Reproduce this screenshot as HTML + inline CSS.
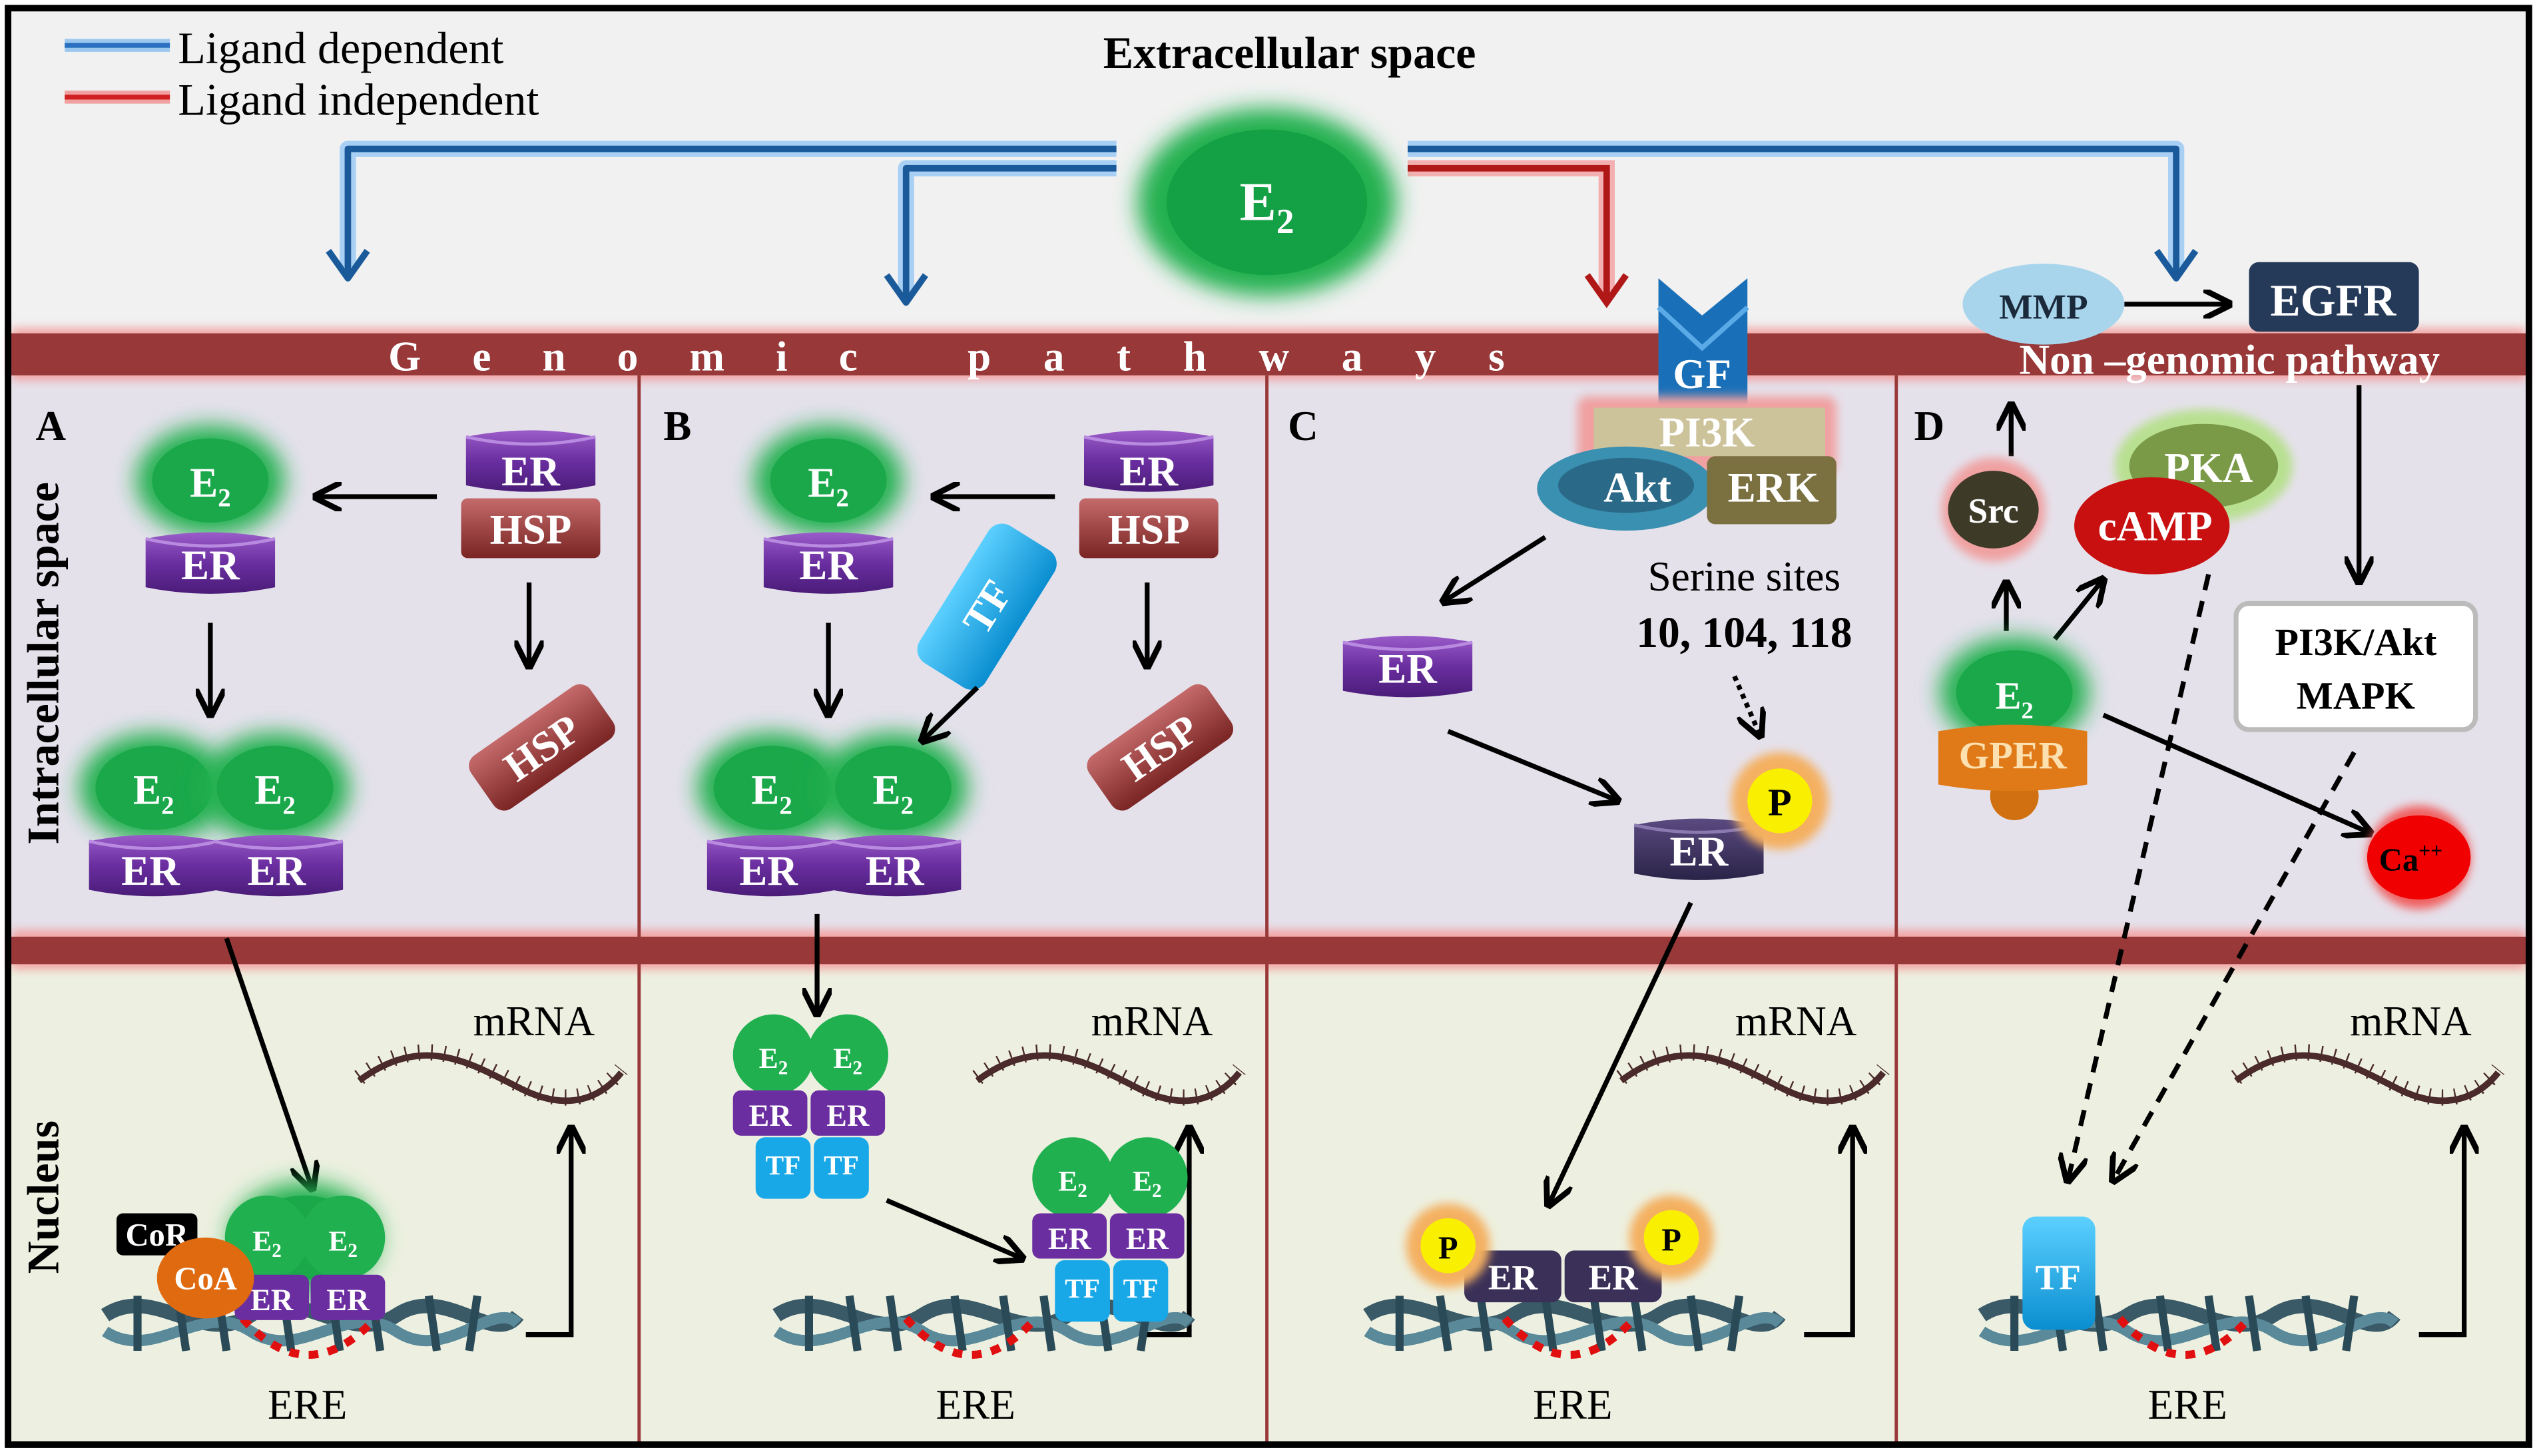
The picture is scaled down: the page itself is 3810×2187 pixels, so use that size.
<!DOCTYPE html>
<html><head><meta charset="utf-8"><style>html,body{margin:0;padding:0;background:#fff}svg{display:block}text{font-family:"Liberation Serif",serif}</style></head><body>
<svg width="3810" height="2187" viewBox="0 0 1568 900" xmlns="http://www.w3.org/2000/svg">
<defs>
<filter id="bl" x="-50%" y="-50%" width="200%" height="200%"><feGaussianBlur stdDeviation="7"/></filter>
<filter id="bl2" x="-50%" y="-50%" width="200%" height="200%"><feGaussianBlur stdDeviation="3"/></filter>
<linearGradient id="pur" x1="0" y1="0" x2="0" y2="1"><stop offset="0" stop-color="#9a5cc8"/><stop offset="0.5" stop-color="#6a2ea0"/><stop offset="1" stop-color="#4a1c78"/></linearGradient>
<linearGradient id="dpur" x1="0" y1="0" x2="0" y2="1"><stop offset="0" stop-color="#5a4a80"/><stop offset="1" stop-color="#2a2448"/></linearGradient>
<linearGradient id="hsp" x1="0" y1="0" x2="0" y2="1"><stop offset="0" stop-color="#c46a6a"/><stop offset="1" stop-color="#7a2424"/></linearGradient>
<linearGradient id="tf" x1="0" y1="0" x2="0" y2="1"><stop offset="0" stop-color="#5cd0ff"/><stop offset="1" stop-color="#0a8ed0"/></linearGradient>
<marker id="ah" viewBox="0 0 10 10" refX="9" refY="5" markerWidth="6" markerHeight="6" orient="auto"><path d="M0,0 L10,5 L0,10" fill="none" stroke="#000" stroke-width="2"/></marker>
<g id="er"><path d="M0,5 Q40,-3 80,5 L80,35 Q40,43 0,35 Z" fill="url(#pur)"/><path d="M0,5 Q40,14 80,5" fill="none" stroke="#b88ae0" stroke-width="2"/></g>
<g id="erd"><path d="M0,5 Q40,-3 80,5 L80,35 Q40,43 0,35 Z" fill="url(#dpur)"/><path d="M0,5 Q40,14 80,5" fill="none" stroke="#8a7ab0" stroke-width="2"/></g>
<g id="e2"><ellipse cx="0" cy="0" rx="46" ry="34" fill="#20b050" filter="url(#bl)"/><ellipse cx="0" cy="0" rx="36" ry="26" fill="#1aa84a"/></g>
<g id="dna"><path d="M0,20 C30,0 60,40 90,20 C120,0 150,40 180,20 C210,0 240,40 255,20" fill="none" stroke="#3a5a68" stroke-width="9"/><path d="M0,30 C30,50 60,10 90,30 C120,50 150,10 180,30 C210,50 240,10 255,25" fill="none" stroke="#5a8a9a" stroke-width="7"/><g stroke="#2a4a58" stroke-width="5"><line x1="20" y1="8" x2="20" y2="42"/><line x1="45" y1="8" x2="50" y2="42"/><line x1="70" y1="8" x2="75" y2="42"/><line x1="110" y1="8" x2="115" y2="42"/><line x1="140" y1="8" x2="145" y2="42"/><line x1="165" y1="8" x2="170" y2="42"/><line x1="200" y1="8" x2="205" y2="42"/><line x1="230" y1="8" x2="225" y2="42"/></g></g>
<g id="mrna"><path d="M0,20 C40,-10 70,10 100,25 C130,40 150,30 162,15" fill="none" stroke="#4a2a2a" stroke-width="4"/><path d="M0,20 C40,-10 70,10 100,25 C130,40 150,30 162,15" fill="none" stroke="#4a2a2a" stroke-width="10" stroke-dasharray="1,7" transform="translate(0,-2)"/></g>
</defs>
<rect x="0" y="0" width="1568" height="900" fill="#fff"/>
<rect x="5" y="5" width="1558" height="888" fill="#f1f1f1" stroke="#000" stroke-width="4"/>
<rect x="7" y="232" width="1554" height="350" fill="#e5e1eb"/>
<rect x="7" y="595" width="1554" height="296" fill="#edf0e0"/>
<rect x="7" y="203" width="1554" height="32" fill="#f2a0a0" filter="url(#bl2)"/>
<rect x="7" y="206" width="1554" height="26" fill="#983838"/>
<rect x="7" y="575" width="1554" height="24" fill="#f2a0a0" filter="url(#bl2)"/>
<rect x="7" y="579" width="1554" height="17" fill="#983838"/>
<g stroke="#983838" stroke-width="2"><line x1="395" y1="232" x2="395" y2="891"/><line x1="783" y1="232" x2="783" y2="891"/><line x1="1172" y1="232" x2="1172" y2="891"/></g>
<rect x="5" y="5" width="1558" height="888" fill="none" stroke="#000" stroke-width="4"/>
<!-- legend -->
<line x1="40" y1="28" x2="105" y2="28" stroke="#9cc8f0" stroke-width="8"/><line x1="40" y1="28" x2="105" y2="28" stroke="#2a70c0" stroke-width="3"/>
<line x1="40" y1="60" x2="105" y2="60" stroke="#f0a0a0" stroke-width="8"/><line x1="40" y1="60" x2="105" y2="60" stroke="#d02020" stroke-width="3"/>
<text x="110" y="39" font-size="28">Ligand dependent</text>
<text x="110" y="71" font-size="28">Ligand independent</text>
<text x="797" y="42" font-size="28" font-weight="bold" text-anchor="middle">Extracellular space</text>
<!-- top pathways -->
<g fill="none" stroke="#a8d0f4" stroke-width="10" stroke-linejoin="round"><path d="M690,92 H215 V165"/><path d="M690,104 H560 V180"/><path d="M870,92 H1345 V165"/></g>
<path d="M870,104 H993 V180" fill="none" stroke="#f4b0b0" stroke-width="10"/>
<g fill="none" stroke="#1a5a9a" stroke-width="4" stroke-linejoin="round"><path d="M690,92 H215 V170"/><path d="M203,155 L215,172 L227,155"/><path d="M690,104 H560 V185"/><path d="M548,170 L560,187 L572,170"/><path d="M870,92 H1345 V170"/><path d="M1333,155 L1345,172 L1357,155"/></g>
<g fill="none" stroke="#b01818" stroke-width="4"><path d="M870,104 H993 V185"/><path d="M981,170 L993,187 L1005,170"/></g>
<ellipse cx="783" cy="125" rx="80" ry="58" fill="#20b050" filter="url(#bl)"/><ellipse cx="783" cy="125" rx="62" ry="45" fill="#14a044"/>
<text x="783" y="136" font-size="34" font-weight="bold" fill="#fff" text-anchor="middle">E<tspan font-size="22" dy="8">2</tspan></text>
<text x="240" y="229" font-size="26" font-weight="bold" fill="#fff" textLength="290" lengthAdjust="spacing">Genomic</text>
<text x="598" y="229" font-size="26" font-weight="bold" fill="#fff" textLength="332" lengthAdjust="spacing">pathways</text>
<text x="1378" y="231" font-size="26" font-weight="bold" fill="#fff" text-anchor="middle">Non –genomic pathway</text>
<text transform="translate(36,410) rotate(-90)" font-size="28" font-weight="bold" text-anchor="middle">Intracellular space</text>
<text transform="translate(36,740) rotate(-90)" font-size="28" font-weight="bold" text-anchor="middle">Nucleus</text>
<g font-size="26" font-weight="bold"><text x="22" y="272">A</text><text x="410" y="272">B</text><text x="796" y="272">C</text><text x="1183" y="272">D</text></g>

<!-- Panel A & B shared -->
<g id="pA">
<use href="#e2" x="130" y="297"/><text x="130" y="307" font-size="26" font-weight="bold" fill="#fff" text-anchor="middle">E<tspan font-size="16" dy="6">2</tspan></text>
<use href="#er" x="90" y="328"/><text x="130" y="358" font-size="26" font-weight="bold" fill="#fff" text-anchor="middle">ER</text>
<use href="#er" x="288" y="265"/><text x="328" y="300" font-size="26" font-weight="bold" fill="#fff" text-anchor="middle">ER</text>
<rect x="285" y="308" width="86" height="37" rx="4" fill="url(#hsp)"/><text x="328" y="336" font-size="26" font-weight="bold" fill="#fff" text-anchor="middle">HSP</text>
<g transform="translate(335,462) rotate(-35)"><rect x="-45" y="-20" width="90" height="40" rx="8" fill="url(#hsp)"/><text x="0" y="9" font-size="26" font-weight="bold" fill="#fff" text-anchor="middle">HSP</text></g>
<line x1="270" y1="307" x2="195" y2="307" stroke="#000" stroke-width="3" marker-end="url(#ah)"/>
<line x1="327" y1="360" x2="327" y2="412" stroke="#000" stroke-width="3" marker-end="url(#ah)"/>
<line x1="130" y1="385" x2="130" y2="442" stroke="#000" stroke-width="3" marker-end="url(#ah)"/>
<use href="#e2" x="95" y="487"/><use href="#e2" x="170" y="487"/>
<text x="95" y="497" font-size="26" font-weight="bold" fill="#fff" text-anchor="middle">E<tspan font-size="16" dy="6">2</tspan></text>
<text x="170" y="497" font-size="26" font-weight="bold" fill="#fff" text-anchor="middle">E<tspan font-size="16" dy="6">2</tspan></text>
<use href="#er" x="55" y="515"/><use href="#er" x="132" y="515"/>
<text x="93" y="547" font-size="26" font-weight="bold" fill="#fff" text-anchor="middle">ER</text>
<text x="171" y="547" font-size="26" font-weight="bold" fill="#fff" text-anchor="middle">ER</text>
<text x="330" y="640" font-size="26" text-anchor="middle">mRNA</text>
<use href="#mrna" x="222" y="648"/>
<path d="M325,825 H353 V697" fill="none" stroke="#000" stroke-width="3" marker-end="url(#ah)"/>
</g>
<use href="#dna" x="65" y="793"/>
<text x="190" y="877" font-size="26" text-anchor="middle">ERE</text>
<line x1="140" y1="580" x2="193" y2="735" stroke="#000" stroke-width="3" marker-end="url(#ah)"/>
<path d="M150,815 Q190,860 232,815" fill="none" stroke="#e01010" stroke-width="5" stroke-dasharray="6,6"/>
<rect x="72" y="750" width="50" height="26" rx="4" fill="#000"/><text x="97" y="770" font-size="20" font-weight="bold" fill="#fff" text-anchor="middle">CoR</text>
<use href="#e2" x="188" y="765"/>
<ellipse cx="165" cy="765" rx="26" ry="26" fill="#20b050"/><ellipse cx="212" cy="765" rx="26" ry="26" fill="#20b050"/>
<text x="165" y="773" font-size="18" font-weight="bold" fill="#fff" text-anchor="middle">E<tspan font-size="12" dy="4">2</tspan></text>
<text x="212" y="773" font-size="18" font-weight="bold" fill="#fff" text-anchor="middle">E<tspan font-size="12" dy="4">2</tspan></text>
<rect x="145" y="788" width="46" height="28" rx="5" fill="#6a2ea0"/><rect x="192" y="788" width="46" height="28" rx="5" fill="#6a2ea0"/>
<text x="168" y="810" font-size="19" font-weight="bold" fill="#fff" text-anchor="middle">ER</text><text x="215" y="810" font-size="19" font-weight="bold" fill="#fff" text-anchor="middle">ER</text>
<ellipse cx="127" cy="790" rx="30" ry="25" fill="#e06a10"/><text x="127" y="797" font-size="20" font-weight="bold" fill="#fff" text-anchor="middle">CoA</text>

<!-- Panel B -->
<use href="#pA" x="382" y="0"/>
<use href="#dna" x="480" y="793"/>
<text x="603" y="877" font-size="26" text-anchor="middle">ERE</text>
<g transform="translate(610,375) rotate(-58)"><rect x="-50" y="-24" width="100" height="48" rx="10" fill="url(#tf)"/><text x="0" y="9" font-size="26" font-weight="bold" fill="#fff" text-anchor="middle">TF</text></g>
<line x1="604" y1="425" x2="570" y2="458" stroke="#000" stroke-width="3" marker-end="url(#ah)"/>
<line x1="505" y1="565" x2="505" y2="627" stroke="#000" stroke-width="3" marker-end="url(#ah)"/>
<path d="M560,815 Q600,860 640,815" fill="none" stroke="#e01010" stroke-width="5" stroke-dasharray="6,6"/>
<g id="bset">
<circle cx="478" cy="652" r="25" fill="#20b050"/><circle cx="524" cy="652" r="25" fill="#20b050"/>
<text x="478" y="660" font-size="18" font-weight="bold" fill="#fff" text-anchor="middle">E<tspan font-size="12" dy="4">2</tspan></text>
<text x="524" y="660" font-size="18" font-weight="bold" fill="#fff" text-anchor="middle">E<tspan font-size="12" dy="4">2</tspan></text>
<rect x="453" y="674" width="46" height="28" rx="5" fill="#6a2ea0"/><rect x="501" y="674" width="46" height="28" rx="5" fill="#6a2ea0"/>
<text x="476" y="696" font-size="19" font-weight="bold" fill="#fff" text-anchor="middle">ER</text><text x="524" y="696" font-size="19" font-weight="bold" fill="#fff" text-anchor="middle">ER</text>
<rect x="467" y="703" width="34" height="38" rx="6" fill="#18a8e8"/><rect x="503" y="703" width="34" height="38" rx="6" fill="#18a8e8"/>
<text x="484" y="726" font-size="17" font-weight="bold" fill="#fff" text-anchor="middle">TF</text><text x="520" y="726" font-size="17" font-weight="bold" fill="#fff" text-anchor="middle">TF</text>
</g>
<use href="#bset" x="185" y="76"/>
<line x1="548" y1="742" x2="632" y2="778" stroke="#000" stroke-width="3" marker-end="url(#ah)"/>

<!-- Panel C -->
<path d="M1025,172 L1052,195 L1080,172 L1080,250 L1025,250 Z" fill="#1a70b8"/>
<path d="M1025,190 L1052,215 L1080,190" fill="none" stroke="#5aaae8" stroke-width="3"/>
<text x="1052" y="240" font-size="26" font-weight="bold" fill="#fff" text-anchor="middle">GF</text>
<rect x="975" y="245" width="160" height="48" rx="6" fill="#f0a0a0" filter="url(#bl2)"/>
<rect x="985" y="252" width="143" height="30" fill="#ccc39a"/><text x="1055" y="276" font-size="26" font-weight="bold" fill="#fff" text-anchor="middle">PI3K</text>
<ellipse cx="1005" cy="302" rx="55" ry="26" fill="#3a90b0"/><ellipse cx="1005" cy="300" rx="42" ry="17" fill="#2a6a88"/>
<rect x="1055" y="282" width="80" height="42" rx="5" fill="#7a7040"/>
<text x="1012" y="310" font-size="26" font-weight="bold" fill="#fff" text-anchor="middle">Akt</text><text x="1096" y="310" font-size="26" font-weight="bold" fill="#fff" text-anchor="middle">ERK</text>
<line x1="955" y1="332" x2="892" y2="372" stroke="#000" stroke-width="3" marker-end="url(#ah)"/>
<use href="#er" x="830" y="392"/><text x="870" y="422" font-size="26" font-weight="bold" fill="#fff" text-anchor="middle">ER</text>
<text x="1078" y="365" font-size="26" text-anchor="middle">Serine sites</text>
<text x="1078" y="400" font-size="27" font-weight="bold" text-anchor="middle">10, 104, 118</text>
<line x1="1072" y1="418" x2="1088" y2="455" stroke="#000" stroke-width="3" stroke-dasharray="3,3" marker-end="url(#ah)"/>
<line x1="895" y1="452" x2="1000" y2="495" stroke="#000" stroke-width="3" marker-end="url(#ah)"/>
<use href="#erd" x="1010" y="505"/><text x="1050" y="535" font-size="26" font-weight="bold" fill="#fff" text-anchor="middle">ER</text>
<circle cx="1100" cy="495" r="30" fill="#f4b060" filter="url(#bl2)"/><circle cx="1100" cy="495" r="20" fill="#f8f000"/><text x="1100" y="504" font-size="24" font-weight="bold" text-anchor="middle">P</text>
<line x1="1045" y1="558" x2="957" y2="745" stroke="#000" stroke-width="3" marker-end="url(#ah)"/>
<use href="#dna" x="845" y="793"/>
<path d="M930,815 Q970,860 1010,815" fill="none" stroke="#e01010" stroke-width="5" stroke-dasharray="6,6"/>
<rect x="905" y="773" width="60" height="32" rx="6" fill="#3a3058"/><rect x="967" y="773" width="60" height="32" rx="6" fill="#3a3058"/>
<text x="935" y="797" font-size="22" font-weight="bold" fill="#fff" text-anchor="middle">ER</text><text x="997" y="797" font-size="22" font-weight="bold" fill="#fff" text-anchor="middle">ER</text>
<circle cx="895" cy="770" r="26" fill="#f4b060" filter="url(#bl2)"/><circle cx="895" cy="770" r="17" fill="#f8f000"/><text x="895" y="778" font-size="20" font-weight="bold" text-anchor="middle">P</text>
<circle cx="1033" cy="765" r="26" fill="#f4b060" filter="url(#bl2)"/><circle cx="1033" cy="765" r="17" fill="#f8f000"/><text x="1033" y="773" font-size="20" font-weight="bold" text-anchor="middle">P</text>
<text x="1110" y="640" font-size="26" text-anchor="middle">mRNA</text>
<use href="#mrna" x="1002" y="648"/>
<path d="M1115,825 H1145 V697" fill="none" stroke="#000" stroke-width="3" marker-end="url(#ah)"/>
<text x="972" y="877" font-size="26" text-anchor="middle">ERE</text>

<!-- Panel D -->
<ellipse cx="1263" cy="188" rx="50" ry="25" fill="#a8d4ec"/><text x="1263" y="197" font-size="22" font-weight="bold" fill="#1a2a3a" text-anchor="middle">MMP</text>
<line x1="1313" y1="188" x2="1378" y2="188" stroke="#000" stroke-width="3" marker-end="url(#ah)"/>
<rect x="1390" y="162" width="105" height="43" rx="6" fill="#243a58"/><text x="1442" y="195" font-size="28" font-weight="bold" fill="#fff" text-anchor="middle">EGFR</text>
<line x1="1458" y1="238" x2="1458" y2="360" stroke="#000" stroke-width="3" marker-end="url(#ah)"/>
<rect x="1382" y="373" width="148" height="78" rx="8" fill="#fff" stroke="#bbb" stroke-width="3"/>
<text x="1456" y="405" font-size="24" font-weight="bold" text-anchor="middle">PI3K/Akt</text><text x="1456" y="438" font-size="24" font-weight="bold" text-anchor="middle">MAPK</text>
<line x1="1243" y1="282" x2="1243" y2="250" stroke="#000" stroke-width="3" marker-end="url(#ah)"/>
<circle cx="1232" cy="315" r="32" fill="#f0a0a0" filter="url(#bl2)"/><ellipse cx="1232" cy="315" rx="28" ry="24" fill="#3e3a28"/><text x="1232" y="323" font-size="22" font-weight="bold" fill="#fff" text-anchor="middle">Src</text>
<ellipse cx="1362" cy="288" rx="55" ry="35" fill="#b8e090" filter="url(#bl2)"/><ellipse cx="1362" cy="288" rx="46" ry="26" fill="#7a9a48"/><text x="1365" y="298" font-size="26" font-weight="bold" fill="#fff" text-anchor="middle">PKA</text>
<ellipse cx="1330" cy="325" rx="48" ry="30" fill="#c81010"/><text x="1332" y="334" font-size="26" font-weight="bold" fill="#fff" text-anchor="middle">cAMP</text>
<line x1="1240" y1="390" x2="1240" y2="360" stroke="#000" stroke-width="3" marker-end="url(#ah)"/>
<line x1="1270" y1="395" x2="1300" y2="358" stroke="#000" stroke-width="3" marker-end="url(#ah)"/>
<circle cx="1245" cy="492" r="15" fill="#d07010"/>
<use href="#e2" x="1245" y="428"/>
<path d="M1198,452 Q1245,444 1290,452 L1290,485 Q1245,493 1198,485 Z" fill="#e07a18"/>
<text x="1245" y="438" font-size="24" font-weight="bold" fill="#fff" text-anchor="middle">E<tspan font-size="15" dy="6">2</tspan></text>
<text x="1244" y="475" font-size="24" font-weight="bold" fill="#fce0b0" text-anchor="middle">GPER</text>
<line x1="1300" y1="442" x2="1465" y2="515" stroke="#000" stroke-width="3" marker-end="url(#ah)"/>
<circle cx="1495" cy="530" r="32" fill="#f06060" filter="url(#bl2)"/><ellipse cx="1495" cy="530" rx="32" ry="26" fill="#f00000"/>
<text x="1490" y="538" font-size="20" font-weight="bold" text-anchor="middle">Ca<tspan font-size="13" dy="-8">++</tspan></text>
<line x1="1365" y1="355" x2="1278" y2="730" stroke="#000" stroke-width="3" stroke-dasharray="10,7" marker-end="url(#ah)"/>
<line x1="1455" y1="465" x2="1306" y2="730" stroke="#000" stroke-width="3" stroke-dasharray="10,7" marker-end="url(#ah)"/>
<use href="#dna" x="1225" y="793"/>
<path d="M1310,815 Q1350,860 1390,815" fill="none" stroke="#e01010" stroke-width="5" stroke-dasharray="6,6"/>
<rect x="1250" y="752" width="45" height="70" rx="8" fill="url(#tf)"/><text x="1272" y="797" font-size="22" font-weight="bold" fill="#fff" text-anchor="middle">TF</text>
<text x="1490" y="640" font-size="26" text-anchor="middle">mRNA</text>
<use href="#mrna" x="1382" y="648"/>
<path d="M1495,825 H1523 V697" fill="none" stroke="#000" stroke-width="3" marker-end="url(#ah)"/>
<text x="1352" y="877" font-size="26" text-anchor="middle">ERE</text>
</svg>
</body></html>
